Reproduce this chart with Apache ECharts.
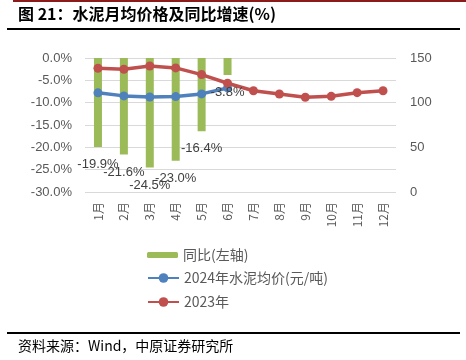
<!DOCTYPE html>
<html><head><meta charset="utf-8">
<script src="https://cdn.jsdelivr.net/npm/echarts@6/dist/echarts.min.js"></script>
<style>html,body{margin:0;padding:0;background:#fff}#c{width:466px;height:360px}</style>
</head><body><div id="c"></div>
<script>
var months = ['1月','2月','3月','4月','5月','6月','7月','8月','9月','10月','11月','12月'];
var yoy = [-19.9, -21.6, -24.5, -23.0, -16.4, -3.8];
var price2024 = [111.0, 107.6, 106.4, 106.8, 109.8, 116.5];
var price2023 = [138.5, 137.4, 141.0, 138.9, 131.4, 121.7, 113.4, 109.7, 106.0, 107.1, 111.2, 113.4];
var leftTicks = [0, -5, -10, -15, -20, -25, -30];
var rightTicks = [0, 50, 100, 150];

var font = '"Noto Sans CJK SC", "Liberation Sans", sans-serif';
var chart = echarts.init(document.getElementById('c'), null, {renderer: 'canvas'});
chart.setOption({
  animation: false,
  textStyle: {fontFamily: font},
  grid: {left: 85, right: 70, top: 58, bottom: 168},
  xAxis: {
    type: 'category', data: months, position: 'bottom',
    axisLine: {show: false}, axisTick: {show: false},
    axisLabel: {rotate: 90, margin: 10, fontSize: 12, color: '#595959', fontFamily: font}
  },
  yAxis: [{
    type: 'value', min: leftTicks[leftTicks.length-1], max: leftTicks[0], interval: 5,
    axisLine: {show: false}, axisTick: {show: false},
    splitLine: {lineStyle: {color: '#D9D9D9', width: 1}},
    axisLabel: {fontSize: 13, color: '#595959', margin: 13, fontFamily: 'Liberation Sans, sans-serif',
      formatter: function(v){ return v.toFixed(1) + '%'; }}
  }, {
    type: 'value', min: rightTicks[0], max: rightTicks[rightTicks.length-1], interval: 50,
    axisLine: {show: false}, axisTick: {show: false}, splitLine: {show: false},
    axisLabel: {fontSize: 13, color: '#595959', margin: 14, fontFamily: 'Liberation Sans, sans-serif'}
  }],
  legend: [{
    orient: 'vertical', left: 142, top: 243, itemWidth: 31, itemHeight: 6, itemGap: 5,
    data: ['同比(左轴)'],
    textStyle: {fontSize: 14, color: '#595959', fontFamily: font}
  }, {
    orient: 'vertical', left: 142, top: 266, itemWidth: 31, itemHeight: 12, itemGap: 10,
    data: ['2024年水泥均价(元/吨)', '2023年'],
    textStyle: {fontSize: 14, color: '#595959', fontFamily: font}
  }],
  series: [{
    name: '同比(左轴)', type: 'bar', yAxisIndex: 0, data: yoy, barWidth: 8,
    itemStyle: {color: '#9BBB59'}, z: 2
  }, {
    name: '2024年水泥均价(元/吨)', type: 'line', yAxisIndex: 1, data: price2024,
    symbol: 'circle', symbolSize: 9, lineStyle: {color: '#4F81BD', width: 3.5},
    itemStyle: {color: '#4F81BD'}, z: 3
  }, {
    name: '2023年', type: 'line', yAxisIndex: 1, data: price2023,
    symbol: 'circle', symbolSize: 9, lineStyle: {color: '#C0504D', width: 3.5},
    itemStyle: {color: '#C0504D'}, z: 3
  }, {
    name: 'yoyLabel', type: 'bar', yAxisIndex: 0, data: yoy, barWidth: 8, barGap: '-100%',
    itemStyle: {color: 'rgba(0,0,0,0)'}, silent: true, z: 10,
    label: {show: true, position: 'bottom', distance: 11, fontSize: 13, color: '#404040',
      fontFamily: 'Liberation Sans, sans-serif',
      formatter: function(p){ return p.value.toFixed(1) + '%'; }}
  }],
  graphic: [
    {type: 'rect', shape: {x: 13, y: 0, width: 453, height: 2}, style: {fill: '#8B1A1A'}},
    {type: 'text', left: 18, top: 6, style: {text: '图 21：水泥月均价格及同比增速(%)', font: 'bold 16px ' + font, fill: '#000'}},
    {type: 'rect', shape: {x: 7, y: 28, width: 453, height: 2}, style: {fill: '#000'}},
    {type: 'rect', shape: {x: 7, y: 332, width: 453, height: 2}, style: {fill: '#000'}},
    {type: 'text', left: 18, top: 339, style: {text: '资料来源：Wind，中原证券研究所', font: '14px ' + font, fill: '#000'}}
  ]
});
</script></body></html>
